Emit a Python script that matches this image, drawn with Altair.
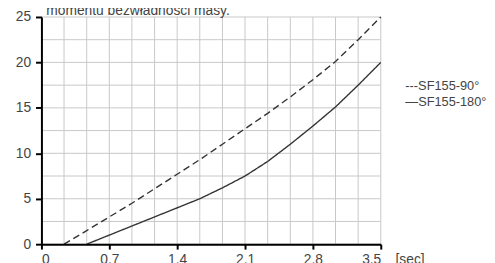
import altair as alt
import pandas as pd

# --- data ---
x_points = [0.233, 0.467, 0.7, 0.933, 1.167, 1.4, 1.633, 1.867, 2.1, 2.333, 2.567, 2.8, 3.033, 3.267, 3.5]
sf90 = [0.0, 1.5, 3.0, 4.5, 6.1, 7.7, 9.3, 11.0, 12.7, 14.4, 16.2, 18.1, 20.1, 22.5, 25.0]
x_points_180 = [0.467, 0.7, 0.933, 1.167, 1.4, 1.633, 1.867, 2.1, 2.333, 2.567, 2.8, 3.033, 3.267, 3.5]
sf180 = [0.0, 1.0, 2.0, 3.0, 4.0, 5.0, 6.2, 7.5, 9.1, 11.0, 13.0, 15.1, 17.5, 20.0]
series_names = ["SF155-90°", "SF155-180°"]
legend_labels = ["---SF155-90°", "—SF155-180°"]

x_ticks = [0, 0.7, 1.4, 2.1, 2.8, 3.5]
y_ticks = [0, 5, 10, 15, 20, 25]
grid_x = [0, 0.233, 0.467, 0.7, 0.933, 1.167, 1.4, 1.633, 1.867, 2.1, 2.333, 2.567, 2.8, 3.033, 3.267, 3.5]
grid_y = [0, 2.5, 5, 7.5, 10, 12.5, 15, 17.5, 20, 22.5, 25]
title_text = "momentu bezwładności masy."
unit_text = "[sec]"

W, H = 345, 231
FONT = "Liberation Sans"
TXT = "#444444"

df = pd.concat([
    pd.DataFrame({"x": x_points, "y": sf90, "s": series_names[0]}),
    pd.DataFrame({"x": x_points_180, "y": sf180, "s": series_names[1]}),
])

xs = alt.Scale(domain=[0, 3.5], nice=False, zero=False)
ys = alt.Scale(domain=[0, 25], nice=False)

x_axis = alt.Axis(values=x_ticks, format="~g", grid=False, domainColor="#000000",
                  domainWidth=2, tickColor="#000000", tickWidth=2, tickSize=5,
                  labelPadding=15, labelBaseline="alphabetic", labelFontSize=14,
                  labelColor=TXT, labelFont=FONT, zindex=1)
y_axis = alt.Axis(values=y_ticks, grid=False, domainColor="#000000", domainWidth=2,
                  tickColor="#000000", tickWidth=2, tickSize=6, labelPadding=5,
                  labelFontSize=14, labelColor=TXT, labelFont=FONT, zindex=1)

vgrid = alt.Chart(pd.DataFrame({"g": grid_x})).mark_rule(color="#c8c8c8", strokeWidth=1).encode(
    x=alt.X("g:Q", scale=xs, axis=x_axis, title=None)
)
hgrid = alt.Chart(pd.DataFrame({"g": grid_y})).mark_rule(color="#c8c8c8", strokeWidth=1).encode(
    y=alt.Y("g:Q", scale=ys, axis=y_axis, title=None)
)

lines = alt.Chart(df).mark_line(color="#333333", strokeWidth=1.4).encode(
    x=alt.X("x:Q", scale=xs, title=None, axis=x_axis),
    y=alt.Y("y:Q", scale=ys, title=None, axis=y_axis),
    strokeDash=alt.StrokeDash("s:N", scale=alt.Scale(domain=series_names, range=[[7, 4], [1, 0]]),
                              legend=None),
    detail="s:N",
)

legend = alt.Chart(pd.DataFrame({"t": legend_labels, "yy": [70, 87]})).mark_text(
    align="left", baseline="middle", fontSize=13, font=FONT, color=TXT
).encode(x=alt.value(370), y=alt.Y("yy:Q", scale=None, axis=None), text="t:N")

title = alt.Chart(pd.DataFrame({"t": [title_text]})).mark_text(
    align="left", baseline="alphabetic", fontSize=14, font=FONT, color=TXT
).encode(x=alt.value(5), y=alt.value(-2), text="t:N")

unit = alt.Chart(pd.DataFrame({"t": [unit_text]})).mark_text(
    align="left", baseline="alphabetic", fontSize=14, font=FONT, color=TXT
).encode(x=alt.value(360), y=alt.value(H + 20), text="t:N")

chart = alt.layer(vgrid, hgrid, lines, legend, title, unit).properties(
    width=W, height=H,
    autosize=alt.AutoSizeParams(type="none"),
    padding={"left": 34, "top": 7, "right": 108, "bottom": 17},
).configure_view(stroke=None)

chart.save("out.html", embed_options={"renderer": "svg", "actions": False})
